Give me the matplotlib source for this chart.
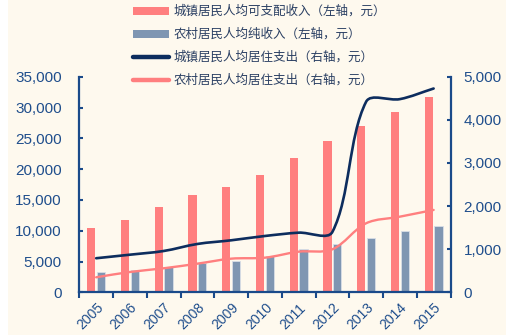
import matplotlib
matplotlib.use("Agg")
import matplotlib.pyplot as plt
from matplotlib.path import Path
from matplotlib.patches import PathPatch, Rectangle, Patch
from matplotlib.lines import Line2D
import numpy as np

# ---------------- data ----------------
years = ["2005", "2006", "2007", "2008", "2009", "2010",
         "2011", "2012", "2013", "2014", "2015"]
urban_income = [10493, 11759, 13786, 15781, 17175, 19109,
                21810, 24565, 26955, 29300, 31700]
rural_income = [3255, 3587, 4140, 4761, 5153, 5919,
                6977, 7917, 8896, 9892, 10772]
urban_housing = [790, 872, 958, 1121, 1206, 1306,
                 1383, 1400, 4420, 4480, 4726]
rural_housing = [348, 471, 557, 664, 780, 803,
                 942, 997, 1601, 1754, 1910]
left_ticks = [0, 5000, 10000, 15000, 20000, 25000, 30000, 35000]
right_ticks = [0, 1000, 2000, 3000, 4000, 5000]
labels = ["城镇居民人均可支配收入（左轴，元）",
          "农村居民人均纯收入（左轴，元）",
          "城镇居民人均居住支出（右轴，元）",
          "农村居民人均居住支出（右轴，元）"]

# ---------------- style ----------------
BG = "#FEF9EE"
PINK = "#FF7F7F"
GREYBLUE = "#7F96B2"
NAVY = "#0D2D5E"
AXC = "#1A4A8A"
TXT = "#1F4E8C"
LEGTXT = "#2A3F63"

W, H = 507, 335
fig = plt.figure(figsize=(W / 100, H / 100), dpi=100, facecolor="white")
fig.patches.append(Rectangle((8 / W, 0), 498 / W, 1, transform=fig.transFigure,
                             facecolor=BG, edgecolor="none", zorder=-10))

ax_l, ax_r, ax_b, ax_t = 79.3, 450.5, 292.3, 76.7
ax = fig.add_axes([ax_l / W, (H - ax_b) / H, (ax_r - ax_l) / W, (ax_b - ax_t) / H])
ax.set_facecolor("none")
ax2 = ax.twinx()
ax2.set_facecolor("none")

x = np.arange(len(years))
bw = 0.245
ax.bar(x - 0.145, urban_income, width=bw, color=PINK, zorder=2)
ax.bar(x + 0.145, rural_income, width=bw, color=GREYBLUE,
       edgecolor="#D9DEE6", linewidth=0.6, zorder=2)

ax.set_xlim(-0.5, len(years) - 0.5)
ax.set_ylim(0, 35000)
ax2.set_ylim(0, 5000)


def smooth_path(xs, ys, px_per_x, px_per_y):
    """Bezier path through the data points (Excel-like smoothing)."""
    xs = np.asarray(xs, float)
    ys = np.asarray(ys, float)
    n = len(xs)
    P = np.column_stack([xs, ys])
    S = np.array([px_per_x, px_per_y])
    d = np.array([np.linalg.norm((P[i + 1] - P[i]) * S) for i in range(n - 1)])
    verts = [tuple(P[0])]
    codes = [Path.MOVETO]
    for i in range(n - 1):
        if i == 0:
            c1 = P[0] + (P[1] - P[0]) / 3
        else:
            T = P[i + 1] - P[i - 1]
            f = d[i] / (d[i - 1] + d[i]) / 3
            c1 = P[i] + T * f
        if i + 1 == n - 1:
            c2 = P[i + 1] - (P[i + 1] - P[i]) / 3
        else:
            T = P[i + 2] - P[i]
            f = d[i] / (d[i] + d[i + 1]) / 3
            c2 = P[i + 1] - T * f
        verts += [tuple(c1), tuple(c2), tuple(P[i + 1])]
        codes += [Path.CURVE4] * 3
    return Path(verts, codes)


pxx = (ax_r - ax_l) / len(years)
pxy = (ax_b - ax_t) / 5000
for vals, col, lw in [(rural_housing, PINK, 1.7), (urban_housing, NAVY, 1.9)]:
    p = smooth_path(x, vals, pxx, pxy)
    ax2.add_patch(PathPatch(p, facecolor="none", edgecolor=col, lw=lw,
                            capstyle="round", joinstyle="round", zorder=3))

# spines
for a in (ax, ax2):
    a.spines["top"].set_visible(False)
    for s in ("left", "right", "bottom"):
        a.spines[s].set_color(AXC)
        a.spines[s].set_linewidth(1.6)
ax.spines["right"].set_visible(False)
ax2.spines["left"].set_visible(False)
ax2.spines["bottom"].set_visible(False)

ax.set_yticks(left_ticks)
ax.set_yticklabels([f"{v:,}" for v in left_ticks])
ax2.set_yticks(right_ticks)
ax2.set_yticklabels([f"{v:,}" for v in right_ticks])
ax.tick_params(axis="y", direction="in", length=3, width=1.5, color=AXC,
               labelcolor=TXT, labelsize=11, pad=12.5)
ax2.tick_params(axis="y", direction="in", length=3, width=1.5, color=AXC,
                labelcolor=TXT, labelsize=11, pad=9.5)
for t in ax.get_yticklabels() + ax2.get_yticklabels():
    t.set_family("Liberation Sans")

ax.set_xticks(x)
ax.set_xticklabels(years, rotation=45, ha="right", va="top",
                   rotation_mode="anchor", family="Liberation Sans")
ax.set_xticks(np.arange(len(years) + 1) - 0.5, minor=True)
ax.tick_params(axis="x", which="major", length=0, labelcolor=TXT,
               labelsize=10, pad=6)
ax.tick_params(axis="x", which="minor", direction="out", length=4,
               width=1.5, color=AXC)

# legend
handles = [Patch(facecolor=PINK, edgecolor="none"),
           Patch(facecolor=GREYBLUE, edgecolor="none"),
           Line2D([], [], color=NAVY, lw=3.2, solid_capstyle="round"),
           Line2D([], [], color=PINK, lw=3.2, solid_capstyle="round")]
leg = fig.legend(handles, labels, loc="upper left",
                 bbox_to_anchor=(133 / W, 1 - 5 / H), frameon=False,
                 borderpad=0, borderaxespad=0, handlelength=2.9,
                 handleheight=0.6, handletextpad=0.35, labelspacing=0.8,
                 prop={"family": ["Noto Sans CJK SC", "DejaVu Sans"], "size": 9})
for t in leg.get_texts():
    t.set_color(LEGTXT)

fig.savefig("out.png", dpi=100, facecolor=fig.get_facecolor())
